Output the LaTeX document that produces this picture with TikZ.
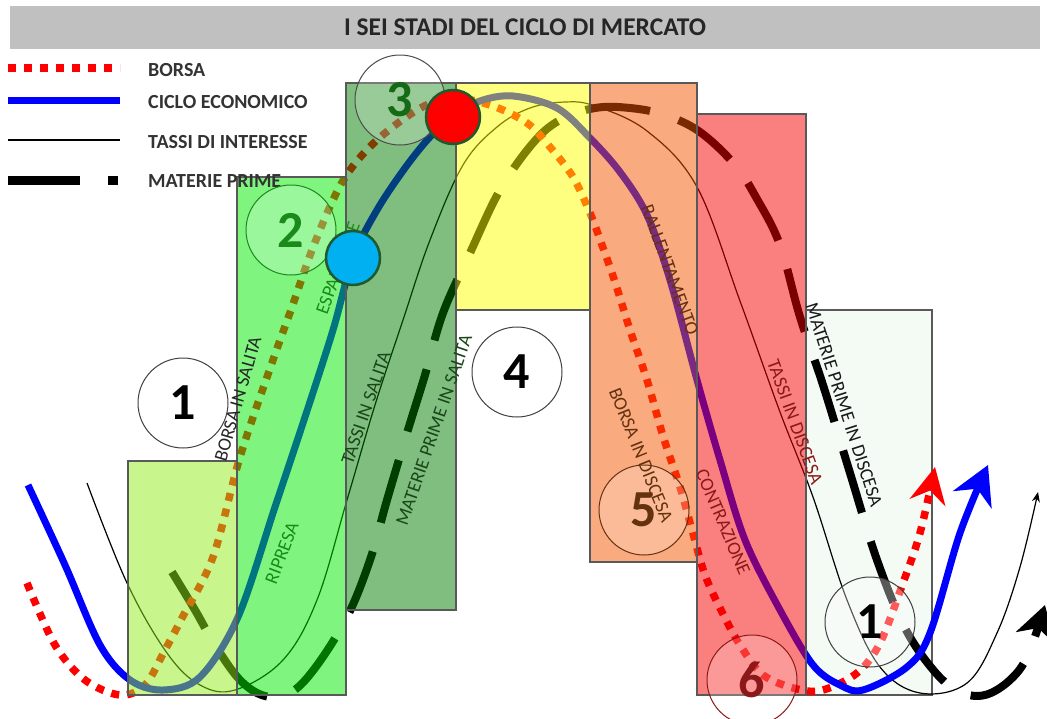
\documentclass[tikz,border=0pt]{standalone}
\usepackage{fontspec}
\setmainfont{Carlito}
\usetikzlibrary{arrows.meta}
\definecolor{cBoxA}{RGB}{145,235,25}
\definecolor{cBoxB}{RGB}{0,235,0}
\definecolor{cBoxC}{RGB}{0,125,0}
\definecolor{cBoxD}{RGB}{255,255,0}
\definecolor{cBoxE}{RGB}{245,85,0}
\definecolor{cBoxF}{RGB}{245,0,0}
\definecolor{cBoxG}{RGB}{244,250,244}
\definecolor{cTitle}{RGB}{192,192,192}
\definecolor{cCyan}{RGB}{0,176,240}
\definecolor{cMark}{RGB}{30,90,45}
\definecolor{cGreenTxt}{RGB}{26,138,26}
\definecolor{cDkGreen}{RGB}{26,70,26}
\definecolor{cBrown}{RGB}{100,50,15}
\definecolor{cDkRed}{RGB}{140,25,25}
\begin{document}
\begin{tikzpicture}[x=1pt,y=-1pt,
  boxline/.style={draw=black!65,line width=1.1pt,fill opacity=0.5},
  borsaline/.style={draw=red,line width=7.5pt,dash pattern=on 8pt off 8pt},
  cicloline/.style={draw=blue,line width=7pt},
  tassiline/.style={draw=black,line width=1.2pt},
  materieline/.style={draw=black,line width=8pt,dash pattern=on 65pt off 30pt},
  legtext/.style={anchor=west,inner sep=0pt,text=black!80,font=\fontsize{20}{20}\selectfont\bfseries},
  lab/.style={inner sep=0pt,font=\fontsize{19}{19}\selectfont},
  numcirc/.style={draw,line width=1pt,circle,minimum size=90pt,inner sep=0pt,font=\fontsize{52}{52}\selectfont\bfseries},
  marker/.style={circle,draw=cMark,line width=2.5pt,minimum size=54pt,inner sep=0pt}
]
\useasboundingbox (0,0) rectangle (1047,718);
% title
\node[fill=cTitle,minimum width=1030pt,minimum height=43pt,inner sep=0pt,font=\fontsize{25.5}{25.5}\selectfont\bfseries,text=black!85] (title) at (525,27) {I SEI STADI DEL CICLO DI MERCATO};
% legend
\coordinate (lb1) at (8,68); \coordinate (lb2) at (120,68);
\draw[borsaline] (lb1) -- (lb2);
\coordinate (lc1) at (8,100); \coordinate (lc2) at (120,100);
\draw[cicloline] (lc1) -- (lc2);
\coordinate (lt1) at (8,140); \coordinate (lt2) at (120,140);
\draw[tassiline] (lt1) -- (lt2);
\coordinate (lm1) at (8,180); \coordinate (lm2) at (80,180);
\coordinate (lm3) at (108,180); \coordinate (lm4) at (118,180);
\draw[draw=black,line width=9pt] (lm1) -- (lm2) (lm3) -- (lm4);
\node[legtext] (legB) at (148,70) {BORSA};
\node[legtext] (legC) at (148,102) {CICLO ECONOMICO};
\node[legtext] (legT) at (148,142) {TASSI DI INTERESSE};
% light box beneath curves
\draw[draw=black!65,line width=1.1pt,fill=cBoxG] (806,310) rectangle (932,695);
% curves
\draw[materieline,-{Stealth[length=34pt,width=40pt,inset=10pt]}] plot[smooth,tension=0.6] coordinates {(172,572) (195,610) (215,645) (240,680) (265,696) (290,693) (315,668) (347,617) (370,560) (387,500) (407,433) (425,375) (443,313) (470,253) (500,190) (533,143) (560,120) (595,108) (630,108) (665,115) (700,132) (735,165) (757,199) (780,245) (800,317) (823,385) (850,473) (877,560) (905,628) (935,672) (960,692) (985,695) (1010,680) (1028,655) (1045,605)};
\draw[tassiline,-{Stealth[length=10pt,width=8pt]}] plot[smooth,tension=0.6] coordinates {(87,483) (127,583) (167,653) (200,685) (235,690) (283,660) (317,600) (347,500) (375,405) (403,320) (430,240) (463,165) (497,127) (530,108) (565,102) (595,106) (647,131) (697,187) (740,301) (780,412) (813,497) (847,600) (880,667) (920,693) (967,683) (997,633) (1020,567) (1038,492)};
\draw[borsaline,-{Stealth[length=36pt,width=36pt,inset=12pt]}] plot[smooth,tension=0.55] coordinates {(27,583) (55,645) (85,680) (120,695) (145,685) (165,650) (182,618) (213,557) (240,457) (273,360) (292,307) (312,250) (333,200) (350,170) (377,140) (417,110) (450,98) (490,105) (527,123) (550,147) (573,177) (590,213) (602,245) (615,282) (630,330) (647,380) (663,436) (680,487) (692,530) (705,575) (722,612) (740,645) (763,675) (797,689) (823,690) (857,673) (880,643) (903,583) (920,533) (935,467)};
\draw[cicloline,-{Stealth[length=38pt,width=42pt,inset=12pt]}] plot[smooth,tension=0.55] coordinates {(28,485) (65,565) (100,645) (130,680) (163,690) (200,677) (238,617) (275,507) (305,417) (333,330) (353,258) (377,210) (405,168) (430,137) (453,117) (480,101) (513,96) (557,108) (590,138) (620,172) (647,215) (670,280) (697,380) (720,460) (745,540) (780,610) (813,665) (840,685) (863,690) (907,667) (930,633) (960,533) (988,465)};
% boxes
\draw[boxline,fill=cBoxA] (128,461) rectangle (237,695);
\draw[boxline,fill=cBoxB] (237,177) rectangle (346,695);
\draw[boxline,fill=cBoxC] (346,83) rectangle (456,610);
\draw[boxline,fill=cBoxD] (456,83) rectangle (590,310);
\draw[boxline,fill=cBoxE] (590,83) rectangle (697,562);
\draw[boxline,fill=cBoxF] (697,114) rectangle (806,695);
\node[legtext] (legM) at (148,181) {MATERIE PRIME};
% number circles
\node[numcirc,draw=black!75,fill=white] (n1) at (183,403) {1};
\node[numcirc,draw=cGreenTxt,fill=white,fill opacity=0.22,text opacity=1,text=cGreenTxt] (n2) at (291,230) {2};
\node[numcirc,draw=black!70,fill=white,fill opacity=0.2,text opacity=1,text=cDkGreen!80!green] (n3) at (400,100) {3};
\node[numcirc,draw=black!75,fill=white] (n4) at (517,372) {4};
\node[numcirc,draw=cBrown,fill=white,fill opacity=0.2,text opacity=1,text=cBrown] (n5) at (644,510) {5};
\node[numcirc,draw=cDkRed,fill=white,fill opacity=0.2,text opacity=1,text=cDkRed] (n6) at (752,680) {6};
\node[numcirc,draw=black!75,fill=white,fill opacity=0.35,text opacity=1,text=black] (n7) at (870,622) {1};
% labels
\node[lab,rotate=74,text=black!85] (tBS) at (238,399) {BORSA IN SALITA};
\node[lab,rotate=70,text=cGreenTxt] (tES) at (338,268) {ESPANSIONE};
\node[lab,rotate=69,text=cGreenTxt] (tRI) at (282,553) {RIPRESA};
\node[lab,rotate=71,text=cDkGreen] (tTS) at (366,408) {TASSI IN SALITA};
\node[lab,rotate=71,text=cDkGreen] (tMS) at (434,430) {MATERIE PRIME IN SALITA};
\node[lab,rotate=-70,text=cBrown] (tRA) at (670,270) {RALLENTAMENTO};
\node[lab,rotate=-68,text=cBrown] (tBD) at (641,455) {BORSA IN DISCESA};
\node[lab,rotate=-67,text=cDkRed] (tCO) at (723,522) {CONTRAZIONE};
\node[lab,rotate=-70,text=cDkRed] (tTD) at (795,422) {TASSI IN DISCESA};
\node[lab,rotate=-72,text=black!90] (tMD) at (844,405) {MATERIE PRIME IN DISCESA};
% markers
\node[marker,fill=cCyan] (mB) at (353,258) {};
\node[marker,fill=red] (mR) at (453,117) {};
\end{tikzpicture}
\end{document}
